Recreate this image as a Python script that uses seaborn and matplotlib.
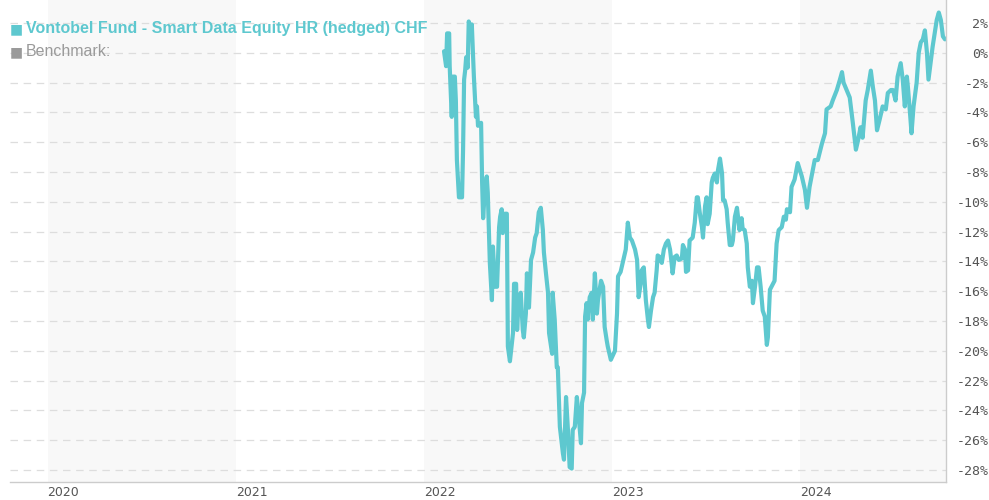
import pandas as pd
import matplotlib.pyplot as plt
import seaborn as sns

# Fund performance (%)
fund_name = "Vontobel Fund - Smart Data Equity HR (hedged) CHF"
bench_name = "Benchmark:"

dates_2022 = ["02-09", "02-13", "02-15", "02-19", "02-20", "02-24", "02-26", "03-02", "03-04", "03-06",
              "03-10", "03-16", "03-18", "03-20", "03-22", "03-24", "03-27", "03-29", "04-02", "04-04",
              "04-08", "04-12", "04-14", "04-16", "04-22", "04-24", "04-26", "04-29", "05-03", "05-05",
              "05-09", "05-13", "05-15", "05-19", "05-23", "05-27", "05-29", "06-01", "06-03", "06-07",
              "06-11", "06-13", "06-17", "06-23", "06-25", "06-29", "07-01", "07-04", "07-08", "07-12",
              "07-14", "07-18", "07-20", "07-24", "07-28", "08-01", "08-05", "08-08", "08-12", "08-16",
              "08-20", "08-22", "08-26", "08-30", "09-01", "09-07", "09-08", "09-12", "09-16", "09-18",
              "09-22", "09-28", "09-30", "10-04", "10-08", "10-11", "10-15", "10-17", "10-21", "10-25",
              "10-29", "11-02", "11-04", "11-08", "11-10", "11-13", "11-15", "11-19", "11-23", "11-25",
              "11-29", "12-03", "12-05", "12-11", "12-15", "12-18", "12-22", "12-24", "12-30"]
values_2022 = [0.1, -0.9, 1.3, 1.3, -0.9, -4.3, -1.6, -1.6, -3.2, -7.2,
               -9.7, -9.7, -6.5, -1.8, -1.2, -0.3, -1.0, 2.1, 1.5, 1.9,
               -1.6, -4.3, -3.6, -4.9, -4.7, -8.7, -11.1, -9.4, -8.3, -9.4,
               -14.1, -16.6, -13.0, -15.7, -15.7, -11.7, -11.0, -10.5, -12.1, -10.8,
               -10.8, -19.7, -20.7, -18.8, -15.5, -15.5, -18.6, -16.6, -16.1, -18.6,
               -19.1, -17.5, -14.8, -17.1, -13.9, -13.4, -12.4, -12.1, -10.7, -10.4,
               -11.9, -13.4, -14.8, -16.1, -18.8, -20.2, -16.1, -17.9, -21.1, -21.1,
               -25.1, -26.9, -27.3, -23.1, -25.5, -27.8, -27.9, -25.3, -25.1, -23.1,
               -24.6, -26.2, -23.5, -22.8, -17.7, -16.8, -17.9, -16.4, -16.1, -17.9,
               -14.8, -17.5, -16.6, -15.3, -15.7, -18.4, -19.3, -19.7, -20.6]

dates_2023 = ["01-07", "01-11", "01-13", "01-18", "01-22", "01-28", "02-01", "02-05", "02-09", "02-15",
              "02-19", "02-22", "02-26", "02-28", "03-04", "03-08", "03-12", "03-14", "03-18", "03-22",
              "03-25", "03-29", "03-31", "04-04", "04-08", "04-12", "04-16", "04-20", "04-24", "04-27",
              "04-29", "05-03", "05-07", "05-11", "05-17", "05-19", "05-23", "05-25", "05-29", "06-01",
              "06-07", "06-11", "06-15", "06-17", "06-21", "06-25", "06-27", "07-01", "07-04", "07-06",
              "07-10", "07-14", "07-16", "07-20", "07-24", "07-26", "07-30", "08-03", "08-05", "08-08",
              "08-12", "08-14", "08-18", "08-22", "08-24", "08-28", "09-01", "09-03", "09-06", "09-10",
              "09-12", "09-16", "09-20", "09-22", "09-26", "09-30", "10-02", "10-06", "10-10", "10-13",
              "10-17", "10-21", "10-25", "10-29", "10-31", "11-04", "11-10", "11-13", "11-17", "11-21",
              "11-27", "12-01", "12-05", "12-07", "12-13", "12-16", "12-22", "12-28"]
values_2023 = [-20.0, -17.5, -15.0, -14.7, -14.1, -13.2, -11.4, -12.4, -12.6, -13.2,
               -13.9, -16.4, -15.5, -14.6, -14.4, -16.6, -17.9, -18.4, -17.3, -16.4,
               -16.1, -14.6, -13.6, -13.7, -14.1, -13.2, -12.8, -12.6, -13.2, -14.1,
               -14.8, -13.7, -13.6, -13.9, -13.8, -12.9, -13.2, -14.7, -14.6, -12.6,
               -12.4, -11.4, -9.7, -9.7, -10.8, -11.7, -12.4, -10.3, -9.7, -11.5,
               -10.8, -8.7, -8.4, -8.1, -8.7, -7.9, -7.1, -8.1, -9.9, -9.9,
               -10.5, -11.4, -12.9, -12.9, -12.6, -11.0, -10.4, -11.0, -11.9, -11.1,
               -11.8, -11.9, -12.8, -14.4, -15.7, -15.3, -16.8, -15.7, -14.4, -14.4,
               -15.7, -17.3, -17.7, -19.6, -19.1, -15.9, -15.5, -15.3, -12.8, -11.9,
               -11.7, -11.0, -11.2, -10.5, -10.7, -9.0, -8.5, -7.4]

dates_2024 = ["01-05", "01-11", "01-15", "01-20", "01-26", "01-30", "02-05", "02-13", "02-19", "02-22",
              "03-01", "03-05", "03-13", "03-19", "03-23", "03-26", "04-01", "04-07", "04-13", "04-19",
              "04-23", "04-28", "05-02", "05-08", "05-12", "05-18", "05-22", "05-26", "05-30", "06-04",
              "06-10", "06-16", "06-20", "06-26", "06-30", "07-05", "07-09", "07-15", "07-19", "07-23",
              "07-27", "07-29", "08-02", "08-05", "08-09", "08-15", "08-19", "08-23", "08-27", "08-31",
              "09-04", "09-07", "09-11", "09-15", "09-19", "09-23", "09-27", "10-01", "10-05", "10-09"]
values_2024 = [-8.3, -9.2, -10.4, -9.0, -7.9, -7.2, -7.2, -6.1, -5.4, -3.8,
               -3.6, -3.2, -2.5, -1.8, -1.3, -2.0, -2.5, -3.0, -4.7, -6.5,
               -5.9, -5.0, -5.7, -3.2, -2.5, -1.2, -2.3, -3.2, -5.2, -4.5,
               -3.6, -3.8, -2.7, -2.5, -2.5, -3.2, -1.6, -0.7, -1.8, -3.6,
               -1.6, -2.3, -4.0, -5.4, -3.6, -2.0, 0.0, 0.7, 0.9, 1.5,
               0.0, -1.8, -0.7, 0.4, 1.3, 2.2, 2.7, 2.2, 1.1, 0.9]

years = [2020, 2021, 2022, 2023, 2024]
shaded_years = [2020, 2022, 2024]
y_ticks = list(range(-28, 3, 2))

TEAL = "#5ec8cf"
GREY = "#9a9a9a"

dates = ([f"2022-{d}" for d in dates_2022] + [f"2023-{d}" for d in dates_2023]
         + [f"2024-{d}" for d in dates_2024])
df = pd.DataFrame({"Date": pd.to_datetime(dates),
                   "Performance": values_2022 + values_2023 + values_2024})

sns.set_style("white")
plt.rcParams['font.family'] = ['DejaVu Sans']

fig = plt.figure(figsize=(9.89, 5.0), dpi=100)
ax = fig.add_axes([10 / 989, 18 / 500, 936 / 989, 482 / 500])

# alternating year bands
for y in shaded_years:
    ax.axvspan(pd.Timestamp(f"{y}-01-01"), pd.Timestamp(f"{y + 1}-01-01"),
               color="#f8f8f8", lw=0, zorder=0)

sns.lineplot(data=df, x="Date", y="Performance", color=TEAL, linewidth=3.0, ax=ax)

ax.set_xlim(pd.Timestamp("2019-10-20"), pd.Timestamp("2024-10-11"))
ax.set_ylim(-28.8, 3.54)
ax.set_xlabel("")
ax.set_ylabel("")

ax.set_axisbelow(True)
ax.grid(axis="y", color="#dddddd", linestyle=(0, (6, 4.5)), linewidth=0.9)
ax.grid(axis="x", visible=False)

ax.yaxis.tick_right()
ax.set_yticks(y_ticks)
ax.set_yticklabels([f"{t}%" for t in y_ticks])
ax.tick_params(axis="y", length=0, pad=30.5, labelsize=9.5, labelcolor="#555555")
for lab in ax.get_yticklabels():
    lab.set_ha("right")
    lab.set_fontfamily("DejaVu Sans Mono")

ax.set_xticks([pd.Timestamp(f"{y}-01-01") for y in years])
ax.set_xticklabels([str(y) for y in years])
ax.tick_params(axis="x", length=0, pad=3, labelsize=9, labelcolor="#555555")
for lab in ax.get_xticklabels():
    lab.set_ha("left")

for s in ["top", "left"]:
    ax.spines[s].set_visible(False)
for s in ["bottom", "right"]:
    ax.spines[s].set_color("#cccccc")
    ax.spines[s].set_linewidth(1)

# legend in the top left corner
fig.text(10 / 989, 1 - 29 / 500, "■", color=TEAL, fontsize=10, va="center", family="DejaVu Sans")
fig.text(26 / 989, 1 - 29 / 500, fund_name, color=TEAL, fontsize=11.5, fontweight="bold",
         va="center", family="Liberation Sans")
fig.text(10 / 989, 1 - 52 / 500, "■", color=GREY, fontsize=10, va="center", family="DejaVu Sans")
fig.text(26 / 989, 1 - 52 / 500, bench_name, color=GREY, fontsize=11.5,
         va="center", family="Liberation Sans")

fig.savefig("out.png", dpi=100)
